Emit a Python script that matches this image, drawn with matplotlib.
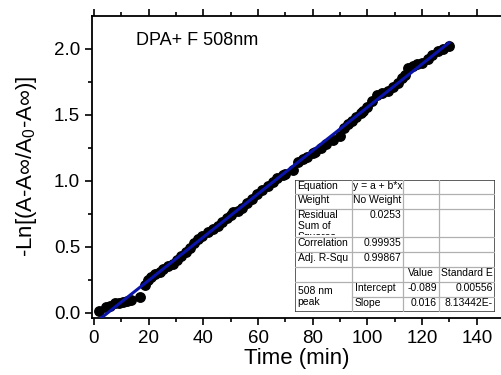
import numpy as np
import matplotlib
matplotlib.use("Agg")
import matplotlib.pyplot as plt
from matplotlib.patches import Rectangle

plt.rcParams["font.family"] = ["Liberation Sans", "DejaVu Sans"]
plt.rcParams["mathtext.fontset"] = "custom"
plt.rcParams["mathtext.rm"] = "Liberation Sans"
plt.rcParams["mathtext.it"] = "Liberation Sans"

# --- data ------------------------------------------------------------------
time_min = [1.8, 4.5, 6.0, 7.7, 9.0, 10.5, 12.0, 13.5, 16.8, 18.6, 19.8, 21.0,
            22.3, 24.0, 25.4, 27.0, 29.0, 30.5, 32.0, 33.5, 35.0, 36.5, 38.0,
            39.5, 41.7, 43.5, 45.3, 47.0, 48.5, 50.0, 51.0, 52.5, 54.0, 56.0,
            57.8, 59.6, 61.5, 63.8, 65.5, 67.0, 69.0, 70.0, 72.8, 74.7, 76.5,
            78.0, 80.0, 81.0, 83.0, 85.0, 87.5, 90.0, 91.5, 93.0, 94.5, 96.0,
            97.5, 98.5, 100.0, 101.6, 103.5, 105.5, 107.5, 109.5, 111.0, 112.5,
            113.7, 115.0, 116.7, 118.0, 120.0, 122.0, 123.5, 125.8, 127.5, 129.8]
neg_ln = [0.015, 0.04, 0.05, 0.07, 0.075, 0.08, 0.09, 0.10, 0.12, 0.21, 0.25,
          0.27, 0.29, 0.31, 0.33, 0.35, 0.37, 0.40, 0.43, 0.46, 0.49, 0.53,
          0.56, 0.58, 0.61, 0.63, 0.66, 0.69, 0.72, 0.74, 0.76, 0.77, 0.79,
          0.83, 0.86, 0.90, 0.93, 0.96, 0.99, 1.02, 1.04, 1.05, 1.08, 1.14,
          1.16, 1.18, 1.21, 1.22, 1.25, 1.28, 1.31, 1.34, 1.40, 1.43, 1.45,
          1.48, 1.51, 1.53, 1.56, 1.60, 1.65, 1.66, 1.68, 1.71, 1.74, 1.78,
          1.80, 1.85, 1.87, 1.88, 1.89, 1.92, 1.95, 1.98, 2.00, 2.02]

# fit-report table (Origin style)
table_rows = [
    ["Equation", "y = a + b*x", "", ""],
    ["Weight", "No Weight", "", ""],
    ["Residual\nSum of\nSquares", "0.0253", "", ""],
    ["Correlation", "0.99935", "", ""],
    ["Adj. R-Squ", "0.99867", "", ""],
    ["", "", "Value", "Standard E"],
    ["508 nm\npeak", "Intercept", "-0.089", "0.00556"],
    ["", "Slope", "0.016", "8.13442E-"],
]
# cell alignment: l = left, c = centre, r = right
table_align = [
    "lcll", "lcll", "lrll", "lrll", "lrll", "llcc", "llrr", "llrr",
]

W, H = 502, 375
fig = plt.figure(figsize=(W / 100, H / 100), dpi=100)


def px(x0, y0, x1, y1):
    """pixel box (top-left origin) -> figure fraction rect"""
    return [x0 / W, 1 - y1 / H, (x1 - x0) / W, (y1 - y0) / H]


ax = fig.add_axes(px(92, 15.5, 502, 318))
t = np.array(time_min)
y = np.array(neg_ln)
ax.plot(t, y, "o", color="black", ms=6.8, zorder=2)
b, a = np.polyfit(t, y, 1)
tt = np.array([t[0], t[-1]])
ax.plot(tt, a + b * tt, color="#0a14a8", lw=2.2, zorder=3)

ax.set_xlim(-0.7, 149.2)
ax.set_ylim(-0.04, 2.25)
ax.set_xticks([0, 20, 40, 60, 80, 100, 120, 140])
ax.set_xticks(np.arange(10, 150, 20), minor=True)
ax.set_yticks([0.0, 0.5, 1.0, 1.5, 2.0])
ax.set_yticks([0.25, 0.75, 1.25, 1.75], minor=True)
ax.set_yticklabels(["0.0", "0.5", "1.0", "1.5", "2.0"])
ax.spines["right"].set_visible(False)
for s in ax.spines.values():
    s.set_linewidth(1.3)
ax.tick_params(which="both", direction="out", labelsize=13.5, width=1.2)
ax.tick_params(which="major", length=5)
ax.tick_params(which="minor", length=3)
ax.tick_params(axis="x", which="both", top=True, labeltop=False)
ax.set_xlabel("Time (min)", fontsize=16, labelpad=1)
ax.set_ylabel("-Ln[(A-A\u221e/A$_0$-A\u221e)]", fontsize=16, labelpad=11)
ax.text(0.108, 0.918, "DPA+ F 508nm", transform=ax.transAxes, fontsize=13,
        va="center", ha="left")

# --- fit table ---------------------------------------------------------------
tab = fig.add_axes(px(295, 180, 495, 312))
tab.set_xlim(0, 200)
tab.set_ylim(132, 0)
tab.axis("off")
tab.add_patch(Rectangle((0, 0), 200, 132, facecolor="white", edgecolor="none"))
cols = [0, 57, 108, 144, 200]
rows = [0, 14, 29, 57, 72, 87, 102, 117, 132]
grid = "#b0b0b0"
for r in rows[1:-1]:
    x0 = 57 if r == 117 else 0
    tab.plot([x0, 200], [r, r], color=grid, lw=0.9)
for c in cols[1:-1]:
    tab.plot([c, c], [0, 132], color=grid, lw=0.9)
tab.add_patch(Rectangle((0, 0), 200, 132, facecolor="none", edgecolor="#333333",
                        lw=1.1))

for i, row in enumerate(table_rows):
    top = rows[i]
    for j, txt in enumerate(row):
        if not txt:
            continue
        left, right = cols[j], cols[j + 1]
        al = table_align[i][j]
        if al == "c":
            x, ha = (left + right) / 2, "center"
        elif al == "r":
            x, ha = right - 2, "right"
        else:
            x, ha = left + 2.5, "left"
        yoff = 4.5 if (i == 6 and j == 0) else 1.2
        tobj = tab.text(x, top + yoff, txt, fontsize=7.5, ha=ha, va="top",
                        linespacing=1.1)
        if i == 2 and j == 0:
            clip = Rectangle((0, rows[2]), 57, rows[3] - rows[2] - 2,
                             transform=tab.transData)
            tobj.set_clip_path(clip)
            tobj.set_clip_on(True)

fig.savefig("out.png", dpi=100)
